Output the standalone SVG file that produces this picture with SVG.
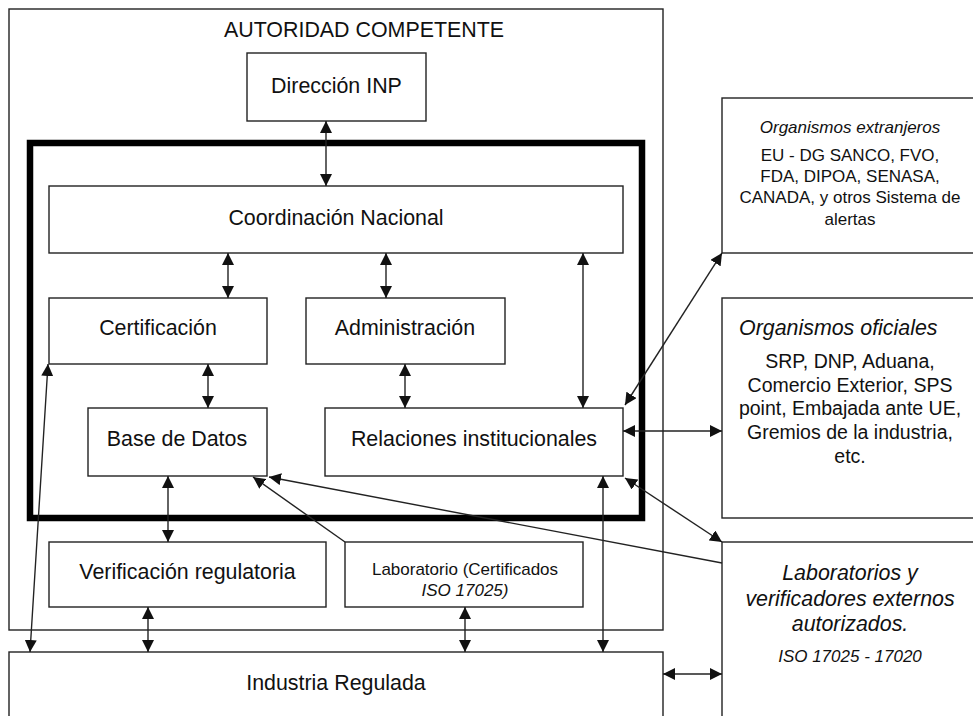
<svg xmlns="http://www.w3.org/2000/svg" width="973" height="716" viewBox="0 0 973 716">
<defs>
<marker id="ah" markerUnits="userSpaceOnUse" markerWidth="12" markerHeight="12" viewBox="0 0 12 12" refX="12" refY="6" orient="auto-start-reverse">
<path d="M0,0 L12,6 L0,12 z" fill="#111"/>
</marker>
<style>
.box{fill:#fff;stroke:#222;stroke-width:1.4}
.t{font-family:"Liberation Sans",Arial,sans-serif;fill:#111;text-anchor:middle}
.i{font-style:italic}
.c line{stroke:#222;stroke-width:1.4}
.d{marker-start:url(#ah);marker-end:url(#ah)}
.s{marker-end:url(#ah)}
</style>
</defs>
<rect width="973" height="716" fill="#fff"/>
<g id="autoridad">
<rect class="box" x="9" y="9" width="654" height="621" fill="none"/>
<text class="t" x="364" y="37" font-size="21.4">AUTORIDAD COMPETENTE</text>
</g>
<g id="industria">
<rect class="box" x="9" y="652" width="654" height="80"/>
<text class="t" x="336" y="690" font-size="21.4">Industria Regulada</text>
</g>
<g id="direccion">
<rect class="box" x="247" y="53" width="179" height="68"/>
<text class="t" x="336.5" y="93" font-size="21.4">Dirección INP</text>
</g>
<g id="nucleo">
<rect x="30" y="143" width="612" height="375" fill="none" stroke="#000" stroke-width="6.5"/>
</g>
<g id="coordinacion">
<rect class="box" x="49" y="186" width="574" height="67"/>
<text class="t" x="336" y="225" font-size="21.4">Coordinación Nacional</text>
</g>
<g id="certificacion">
<rect class="box" x="49" y="298" width="218" height="66"/>
<text class="t" x="158" y="335" font-size="21.4">Certificación</text>
</g>
<g id="administracion">
<rect class="box" x="306" y="298" width="199" height="66"/>
<text class="t" x="405" y="335" font-size="21.4">Administración</text>
</g>
<g id="basedatos">
<rect class="box" x="88" y="408" width="179" height="68"/>
<text class="t" x="177" y="446" font-size="21.4">Base de Datos</text>
</g>
<g id="relaciones">
<rect class="box" x="325" y="408" width="298" height="68"/>
<text class="t" x="474" y="446" font-size="21.4">Relaciones institucionales</text>
</g>
<g id="verificacion">
<rect class="box" x="49" y="542" width="277" height="65"/>
<text class="t" x="187.5" y="579" font-size="21.4">Verificación regulatoria</text>
</g>
<g id="laboratorio">
<rect class="box" x="345" y="542" width="238" height="65"/>
<text class="t" x="465" y="575" font-size="17">Laboratorio (Certificados</text>
<text class="t i" x="465" y="596" font-size="17">ISO 17025)</text>
</g>
<g id="extranjeros">
<rect class="box" x="722" y="98" width="260" height="155"/>
<text class="t i" x="850" y="133" font-size="17">Organismos extranjeros</text>
<text class="t" x="850" y="161" font-size="17">EU - DG SANCO, FVO,</text>
<text class="t" x="850" y="182" font-size="17">FDA, DIPOA, SENASA,</text>
<text class="t" x="850" y="203" font-size="17">CANADA, y otros Sistema de</text>
<text class="t" x="850" y="225" font-size="17">alertas</text>
</g>
<g id="oficiales">
<rect class="box" x="722" y="298" width="260" height="220"/>
<text class="t i" x="739" y="335" font-size="21.4" text-anchor="start" style="text-anchor:start">Organismos oficiales</text>
<text class="t" x="850" y="368" font-size="19.5">SRP, DNP, Aduana,</text>
<text class="t" x="850" y="392" font-size="19.5">Comercio Exterior, SPS</text>
<text class="t" x="850" y="415" font-size="19.5">point, Embajada ante UE,</text>
<text class="t" x="850" y="439" font-size="19.5">Gremios de la industria,</text>
<text class="t" x="850" y="463" font-size="19.5">etc.</text>
</g>
<g id="externos">
<rect class="box" x="722" y="542" width="260" height="190"/>
<text class="t i" x="850" y="580" font-size="21.4">Laboratorios y</text>
<text class="t i" x="850" y="606" font-size="21.4">verificadores externos</text>
<text class="t i" x="850" y="631" font-size="21.4">autorizados.</text>
<text class="t i" x="850" y="662" font-size="17">ISO 17025 - 17020</text>
</g>
<g id="connectors" class="c">
<line class="d" x1="326" y1="121" x2="326" y2="186"/>
<line class="d" x1="228" y1="253" x2="228" y2="298"/>
<line class="d" x1="386" y1="253" x2="386" y2="298"/>
<line class="d" x1="583" y1="253" x2="583" y2="408"/>
<line class="d" x1="208" y1="364" x2="208" y2="408"/>
<line class="d" x1="405" y1="364" x2="405" y2="408"/>
<line class="d" x1="168" y1="476" x2="168" y2="542"/>
<line class="d" x1="148" y1="607" x2="148" y2="652"/>
<line class="d" x1="465" y1="607" x2="465" y2="652"/>
<line class="d" x1="603" y1="476" x2="603" y2="652"/>
<line class="d" x1="48" y1="364" x2="30" y2="652"/>
<line class="s" x1="345" y1="542" x2="253" y2="477"/>
<line class="s" x1="722" y1="563" x2="269" y2="477"/>
<line class="d" x1="625" y1="478" x2="722" y2="542"/>
<line class="d" x1="623" y1="431" x2="722" y2="431"/>
<line class="d" x1="625" y1="405" x2="722" y2="253"/>
<line class="d" x1="663" y1="674" x2="722" y2="674"/>
</g>
</svg>
